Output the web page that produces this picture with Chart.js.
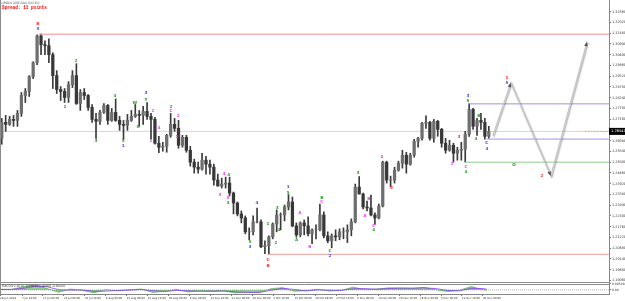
<!DOCTYPE html>
<html>
<head>
<meta charset="utf-8">
<script src="https://cdn.jsdelivr.net/npm/chart.js@4.4.0/dist/chart.umd.min.js"></script>
<style>
html,body{margin:0;padding:0;background:#fff;}
canvas{display:block;}
</style>
</head>
<body>
<canvas id="chart" width="625" height="301"></canvas>
<script>
//GBPUSD H4 chart, one candle per trading day here (day 0 = 28 Jun 2023)
const firstDay = 2;
const opens  = [1.2620,1.2700,1.2690,1.2715,1.2710,1.2745,1.2835,1.2855,1.2930,1.3000,1.3135,1.3090,1.3085,1.3040,1.2935,1.2865,1.2855,1.2825,1.2890,1.2935,1.2795,1.2850,1.2835,1.2775,1.2715,1.2705,1.2750,1.2785,1.2710,1.2750,1.2710,1.2690,1.2685,1.2710,1.2730,1.2740,1.2735,1.2755,1.2730,1.2715,1.2595,1.2575,1.2580,1.2635,1.2690,1.2670,1.2585,1.2625,1.2560,1.2500,1.2475,1.2465,1.2510,1.2490,1.2475,1.2410,1.2380,1.2390,1.2395,1.2345,1.2295,1.2240,1.2220,1.2150,1.2150,1.2200,1.2200,1.2075,1.2080,1.2125,1.2190,1.2235,1.2235,1.2275,1.2300,1.2180,1.2135,1.2195,1.2180,1.2140,1.2160,1.2160,1.2235,1.2130,1.2105,1.2130,1.2125,1.2150,1.2150,1.2160,1.2200,1.2375,1.2340,1.2275,1.2270,1.2235,1.2220,1.2280,1.2500,1.2410,1.2410,1.2460,1.2495,1.2535,1.2490,1.2535,1.2605,1.2620,1.2695,1.2700,1.2620,1.2705,1.2665,1.2595,1.2560,1.2585,1.2545,1.2560,1.2565,1.2640,1.2765,1.2680,1.2710,1.2700,1.2630];
const highs  = [1.2720,1.2735,1.2730,1.2735,1.2760,1.2850,1.2870,1.2935,1.3005,1.3140,1.3143,1.3110,1.3120,1.3050,1.2960,1.2880,1.2870,1.2905,1.2960,1.2995,1.2865,1.2870,1.2840,1.2790,1.2745,1.2760,1.2795,1.2790,1.2770,1.2818,1.2730,1.2710,1.2740,1.2760,1.2790,1.2760,1.2780,1.2800,1.2745,1.2725,1.2630,1.2600,1.2640,1.2745,1.2720,1.2710,1.2635,1.2635,1.2580,1.2515,1.2500,1.2545,1.2530,1.2510,1.2490,1.2440,1.2420,1.2425,1.2425,1.2350,1.2300,1.2255,1.2230,1.2170,1.2230,1.2270,1.2210,1.2105,1.2130,1.2195,1.2260,1.2245,1.2285,1.2337,1.2325,1.2195,1.2200,1.2210,1.2225,1.2165,1.2185,1.2290,1.2250,1.2150,1.2140,1.2160,1.2165,1.2170,1.2185,1.2215,1.2390,1.2428,1.2345,1.2305,1.2335,1.2245,1.2290,1.2505,1.2505,1.2430,1.2475,1.2505,1.2560,1.2550,1.2545,1.2615,1.2625,1.2700,1.2733,1.2705,1.2715,1.2710,1.2670,1.2620,1.2610,1.2595,1.2575,1.2600,1.2655,1.2793,1.2770,1.2720,1.2745,1.2720,1.2680];
const lows   = [1.2590,1.2655,1.2685,1.2680,1.2680,1.2730,1.2800,1.2830,1.2920,1.2990,1.3040,1.3040,1.3000,1.2870,1.2845,1.2810,1.2800,1.2800,1.2875,1.2790,1.2760,1.2815,1.2760,1.2700,1.2620,1.2690,1.2745,1.2690,1.2705,1.2705,1.2660,1.2615,1.2660,1.2705,1.2725,1.2680,1.2690,1.2715,1.2615,1.2590,1.2548,1.2555,1.2550,1.2625,1.2655,1.2570,1.2575,1.2550,1.2480,1.2445,1.2445,1.2460,1.2440,1.2440,1.2385,1.2380,1.2370,1.2370,1.2330,1.2240,1.2230,1.2195,1.2140,1.2110,1.2135,1.2195,1.2070,1.2040,1.2037,1.2115,1.2150,1.2160,1.2205,1.2260,1.2175,1.2123,1.2125,1.2135,1.2130,1.2090,1.2115,1.2155,1.2120,1.2095,1.2070,1.2105,1.2110,1.2115,1.2096,1.2130,1.2195,1.2340,1.2265,1.2255,1.2230,1.2187,1.2215,1.2275,1.2395,1.2375,1.2395,1.2455,1.2470,1.2445,1.2485,1.2525,1.2575,1.2610,1.2670,1.2610,1.2600,1.2630,1.2575,1.2545,1.2555,1.2500,1.2510,1.2510,1.2500,1.2630,1.2665,1.2635,1.2665,1.2615,1.2620];
const closes = [1.2700,1.2690,1.2715,1.2710,1.2745,1.2835,1.2855,1.2930,1.3000,1.3135,1.3090,1.3085,1.3040,1.2935,1.2865,1.2855,1.2825,1.2890,1.2935,1.2795,1.2850,1.2835,1.2775,1.2715,1.2705,1.2750,1.2785,1.2710,1.2750,1.2710,1.2690,1.2685,1.2710,1.2730,1.2740,1.2735,1.2755,1.2730,1.2715,1.2595,1.2575,1.2580,1.2635,1.2690,1.2670,1.2585,1.2625,1.2560,1.2500,1.2475,1.2465,1.2510,1.2490,1.2475,1.2410,1.2380,1.2390,1.2395,1.2345,1.2295,1.2240,1.2220,1.2150,1.2150,1.2200,1.2200,1.2075,1.2080,1.2125,1.2190,1.2235,1.2235,1.2275,1.2300,1.2180,1.2135,1.2195,1.2180,1.2140,1.2160,1.2160,1.2235,1.2130,1.2105,1.2130,1.2125,1.2150,1.2150,1.2160,1.2200,1.2375,1.2340,1.2275,1.2270,1.2235,1.2220,1.2280,1.2500,1.2410,1.2410,1.2460,1.2495,1.2535,1.2490,1.2535,1.2605,1.2620,1.2695,1.2700,1.2620,1.2705,1.2665,1.2595,1.2560,1.2585,1.2545,1.2560,1.2565,1.2640,1.2765,1.2680,1.2710,1.2700,1.2630,1.2655];

//time axis labels (day position, text)
const timeDays = [2.055,7.667,13,18.333,23.667,29,34.333,39.667,45,50.333,55.667,61,66.333,71.667,77,82.333,87.667,93,98.333,103.667,109,114.333,119.667,125];
const timeLabels = ['28 Jun 2023','7 Jul 16:00','17 Jul 00:00','24 Jul 08:00','31 Jul 16:00','8 Aug 00:00','15 Aug 08:00','22 Aug 16:00','30 Aug 00:00','6 Sep 08:00','13 Sep 16:00','21 Sep 00:00','28 Sep 08:00','5 Oct 16:00','13 Oct 00:00','20 Oct 08:00','27 Oct 16:00','6 Nov 00:00','13 Nov 08:00','20 Nov 16:00','28 Nov 00:00','5 Dec 08:00','12 Dec 16:00','20 Dec 00:00'];

//price axis labels
const priceTicks = [1.32560,1.32020,1.31480,1.30940,1.30400,1.29860,1.29320,1.28780,1.28240,1.27700,1.27160,1.26620,1.26080,1.25540,1.25000,1.24460,1.23920,1.23380,1.22840,1.22300,1.21760,1.21220,1.20680,1.20140,1.19600,1.19060];
const bidPrice = 1.26547;

//horizontal levels: start day, price, colour
const levelDays   = [12.0, 70.3, 121.2, 126.0, 120.4];
const levelPrices = [1.3143, 1.2037, 1.2793, 1.2616, 1.2500];
const levelColors = ['#f38d8d','#f0a09a','#9696ee','#9696ee','#8fcf8f'];

//projected path
const projDays   = [127.5, 132.1, 142.3, 151.5];
const projPrices = [1.2632, 1.2899, 1.2431, 1.3105];

//wave labels
const waveText  = ['B','5','2','1','3','4','5','1','W','X','3','Y','2','1','4','2','C','2','1','4','3','4','5','3','4','5','3','C','B','1','2','4','3','1','5','A','A','B','B','C','C','2','2','3','A','B','C','4','1','2','1','3','C','4','3','5','4','B','C','4','1','5','O','2'];
const waveDay   = [11.7,11.7,21.4,18.6,26.5,31.3,33.4,33.4,36.4,37.2,39.2,39.2,41.0,40.5,42.5,45.6,45.6,47.4,47.1,59.1,58.05,60.3,60.1,60.1,67.5,65.7,65.7,70.3,70.3,70.3,72.3,73.1,72.6,75.4,75.4,77.6,78.4,80.96,84.0,84.0,86.05,86.05,90.4,93.2,94.95,95.97,97.2,97.2,99.3,101.8,117.1,118.9,120.7,120.7,121.2,121.2,123.2,123.97,126.0,126.0,131.1,131.1,132.9,140.0];
const wavePrice = [1.3195,1.3170,1.3011,1.2780,1.2605,1.2831,1.2605,1.2580,1.2800,1.2675,1.2846,1.2815,1.2760,1.2605,1.2670,1.2780,1.2760,1.2730,1.2625,1.2439,1.2338,1.2434,1.2323,1.2293,1.2293,1.2097,1.2072,1.2009,1.1978,1.2188,1.2092,1.2158,1.2268,1.2374,1.2348,1.2107,1.2243,1.2072,1.2323,1.2298,1.2052,1.2027,1.2127,1.2444,1.2228,1.2318,1.2178,1.2158,1.2524,1.2369,1.2489,1.2625,1.2474,1.2449,1.2831,1.2810,1.2615,1.2730,1.2595,1.2569,1.2921,1.2896,1.2484,1.2429];
const waveColor = ['r','b','g','g','g','g','g','b','g','g','b','g','m','m','m','g','m','m','m','m','m','g','m','g','b','g','b','r','r','g','g','g','g','b','g','g','m','m','g','m','g','b','g','g','m','m','m','g','r','r','m','r','m','g','b','g','g','g','b','b','r','b','g','r'];

//MACD sub window
const macdDays   = [2,5,8,11,14,17,20,23,26,29,32,35,38,41,44,47,50,53,56,59,62,65,68,71,74,77,80,83,86,89,92,95,98,101,104,107,110,113,116,119,122,125,126];
const macdMain   = [0.0006,0.0004,0.0028,0.0045,0.0012,-0.0020,0.0008,-0.0004,-0.0024,0.0002,-0.0008,0.0002,0.0008,-0.0022,-0.0010,0.0004,-0.0018,-0.0006,-0.0014,-0.0008,-0.0026,-0.0020,-0.0022,0.0010,0.0020,-0.0012,-0.0006,0.0006,-0.0010,-0.0002,0.0024,0.0002,0.0008,0.0018,0.0016,0.0014,0.0022,0.0002,-0.0014,-0.0004,0.0030,0.0002,-0.0003];
const macdSignal = [0.0004,0.0005,0.0014,0.0032,0.0028,0.0002,-0.0002,0.0000,-0.0012,-0.0010,-0.0004,-0.0002,0.0004,-0.0006,-0.0014,-0.0004,-0.0008,-0.0012,-0.0010,-0.0010,-0.0016,-0.0022,-0.0021,-0.0004,0.0014,0.0004,-0.0008,0.0000,-0.0002,-0.0004,0.0010,0.0012,0.0006,0.0012,0.0016,0.0015,0.0018,0.0012,-0.0004,-0.0008,0.0014,0.0012,0.0006];
const macdTicks = [0.0052, 0];
const macdTickLabels = ['0.005166','0.00'];

const X_MIN = 2.055, X_MAX = 157.1;
const Y_MIN = 1.18930, Y_MAX = 1.33148;
const palette = { r:'#ff2a2a', b:'#3f3fff', g:'#1f9e1f', m:'#ff30ff' };

function lineTo(day, price){ return [{x:day, y:price},{x:X_MAX, y:price}]; }

var wickData = [], bodyData = [];
for (var i = 0; i < opens.length; i++) {
  var d = firstDay + i + 0.5;
  wickData.push({x:d, y:[lows[i], highs[i]]});
  bodyData.push({x:d, y:[opens[i], closes[i]]});
}

var datasets = [];
//projection on top
datasets.push({type:'line', data: projDays.map(function(d,i){return {x:d, y:projPrices[i]};}),
  borderColor:'#c6c6c6', borderWidth:1.2, pointRadius:0, yAxisID:'y', tension:0});
var projIndex = 0;
for (var k = 0; k < levelDays.length; k++) {
  datasets.push({type:'line', data: lineTo(levelDays[k], levelPrices[k]), borderColor: levelColors[k],
    borderWidth:1, pointRadius:0, yAxisID:'y'});
}
datasets.push({type:'bar', data: bodyData, yAxisID:'y', grouped:false, barThickness:2.6,
  backgroundColor: function(c){ var j = c.dataIndex; return closes[j] >= opens[j] ? '#6e6e6e' : '#383838'; }});
datasets.push({type:'bar', data: wickData, yAxisID:'y', grouped:false, barThickness:1, backgroundColor:'#3a3a3a'});
datasets.push({type:'line', data:[{x:151, y:bidPrice},{x:X_MAX, y:bidPrice}], borderColor:'#f3a070', borderDash:[1.5,1.5],
  borderWidth:1, pointRadius:0, yAxisID:'y'});
datasets.push({type:'line', data: lineTo(X_MIN, bidPrice), borderColor:'#d6d6d6', borderWidth:1, pointRadius:0, yAxisID:'y'});
//macd
datasets.push({type:'line', data: macdDays.map(function(d,i){return {x:d, y:macdSignal[i]};}), borderColor:'#8a3cf0',
  borderWidth:0.8, pointRadius:0, yAxisID:'y2'});
datasets.push({type:'line', data: macdDays.map(function(d,i){return {x:d, y:macdMain[i]};}), borderColor:'#3aa63a',
  backgroundColor:'rgba(58,166,58,0.55)', fill:'origin', borderWidth:0.6, pointRadius:0, yAxisID:'y2'});
datasets.push({type:'line', data:[{x:X_MIN, y:0},{x:X_MAX, y:0}], borderColor:'#999', borderDash:[1,1],
  borderWidth:0.8, pointRadius:0, yAxisID:'y2'});

var overlay = {
  id: 'overlay',
  beforeDatasetDraw: function(chart, args) {
    if (args.index === projIndex) {
      var c = chart.ctx;
      c.save();
      c.shadowColor = 'rgba(0,0,0,0.4)';
      c.shadowBlur = 1.5;
      c.shadowOffsetX = 1;
      c.shadowOffsetY = 1;
    }
  },
  afterDatasetDraw: function(chart, args) {
    if (args.index === projIndex) chart.ctx.restore();
  },
  afterDatasetsDraw: function(chart) {
    var c = chart.ctx, xs = chart.scales.x, ys = chart.scales.y;
    var area = chart.chartArea;
    c.save();
    //arrow heads on projection
    var pts = chart.getDatasetMeta(projIndex).data;
    c.fillStyle = '#555';
    for (var i = 1; i < pts.length; i++) {
      var a = Math.atan2(pts[i].y - pts[i-1].y, pts[i].x - pts[i-1].x);
      c.beginPath();
      c.moveTo(pts[i].x, pts[i].y);
      c.lineTo(pts[i].x - 4.5*Math.cos(a) + 1.8*Math.sin(a), pts[i].y - 4.5*Math.sin(a) - 1.8*Math.cos(a));
      c.lineTo(pts[i].x - 4.5*Math.cos(a) - 1.8*Math.sin(a), pts[i].y - 4.5*Math.sin(a) + 1.8*Math.cos(a));
      c.closePath();
      c.fill();
    }
    //wave labels
    c.font = 'bold 4.2px "DejaVu Sans"';
    c.textAlign = 'center';
    c.textBaseline = 'middle';
    for (var j = 0; j < waveText.length; j++) {
      c.fillStyle = palette[waveColor[j]];
      c.fillText(waveText[j], xs.getPixelForValue(waveDay[j]), ys.getPixelForValue(wavePrice[j]));
    }
    //pane separators
    c.strokeStyle = '#8c8c8c';
    c.lineWidth = 1;
    c.beginPath();
    c.moveTo(0, ys.bottom - 0.5); c.lineTo(area.right, ys.bottom - 0.5);
    c.moveTo(0, ys.bottom + 1.5); c.lineTo(area.right, ys.bottom + 1.5);
    c.moveTo(0.5, 0); c.lineTo(0.5, area.bottom);
    c.stroke();
    //bid price box
    var by = ys.getPixelForValue(bidPrice);
    c.fillStyle = '#000';
    c.fillRect(area.right, by - 3.5, 625 - area.right, 7);
    c.fillStyle = '#fff';
    c.font = '3.6px "DejaVu Sans"';
    c.textAlign = 'left';
    c.fillText(bidPrice.toFixed(5), area.right + 2, by);
    c.restore();
  },
  afterDraw: function(chart) {
    var c = chart.ctx;
    c.save();
    c.textBaseline = 'middle';
    c.textAlign = 'left';
    c.fillStyle = '#444';
    c.font = '3.2px "DejaVu Sans"';
    c.fillText('\u25BE GBPUSD,H4  1.26588 1.26644 1.26510 1.26547', 1.5, 3.2, 38);
    c.fillStyle = '#ff0000';
    c.font = 'bold 4.6px "Liberation Mono"';
    c.fillText('Spread: 11 points', 2, 7.8, 45);
    c.fillStyle = '#444';
    c.font = '3px "DejaVu Sans"';
    c.fillText('MACD(12,26,9) -0.00049 0.00060 -0.00040', 2, chart.scales.y.bottom + 3.5, 63);
    c.restore();
  }
};

var ctx = document.getElementById('chart').getContext('2d');
var chart = new Chart(ctx, {
  type: 'bar',
  data: { datasets: datasets },
  options: {
    responsive: false,
    devicePixelRatio: 1,
    animation: false,
    layout: { padding: 0 },
    plugins: { legend: { display: false }, tooltip: { enabled: false } },
    scales: {
      x: {
        type: 'linear', min: X_MIN, max: X_MAX, offset: false,
        afterBuildTicks: function(s){ s.ticks = timeDays.map(function(v){ return {value:v}; }); },
        afterFit: function(s){ s.height = 7; s.paddingLeft = 0; s.paddingRight = 0; },
        ticks: { autoSkip:false, maxRotation:0, align:'start', padding:0.5, color:'#333',
          font:{ size:2.7, family:'"DejaVu Sans"' },
          callback: function(v, i){ return timeLabels[i]; } },
        grid: { drawOnChartArea:false, offset:false, tickLength:2, color:'#777' },
        border: { color:'#888' }
      },
      y: {
        position: 'right', stack: 'pane', stackWeight: 283, min: Y_MIN, max: Y_MAX,
        afterBuildTicks: function(s){ s.ticks = priceTicks.map(function(v){ return {value:v}; }); },
        afterFit: function(s){ s.width = 16; s.paddingTop = 0; s.paddingBottom = 0; },
        ticks: { autoSkip:false, padding:1, color:'#333', font:{ size:3.4, family:'"DejaVu Sans"' },
          callback: function(v){ return v.toFixed(5); } },
        grid: { drawOnChartArea:false, tickLength:2, color:'#777' },
        border: { color:'#888' }
      },
      y2: {
        position: 'right', stack: 'pane', stackWeight: 11, min: -0.0035, max: 0.0060,
        afterBuildTicks: function(s){ s.ticks = macdTicks.map(function(v){ return {value:v}; }); },
        afterFit: function(s){ s.width = 16; s.paddingTop = 0; s.paddingBottom = 0; },
        ticks: { autoSkip:false, padding:1, color:'#333', font:{ size:3, family:'"DejaVu Sans"' },
          callback: function(v, i){ return macdTickLabels[i]; } },
        grid: { drawOnChartArea:false, tickLength:2, color:'#777' },
        border: { color:'#888' }
      }
    }
  },
  plugins: [overlay]
});
</script>
</body>
</html>
